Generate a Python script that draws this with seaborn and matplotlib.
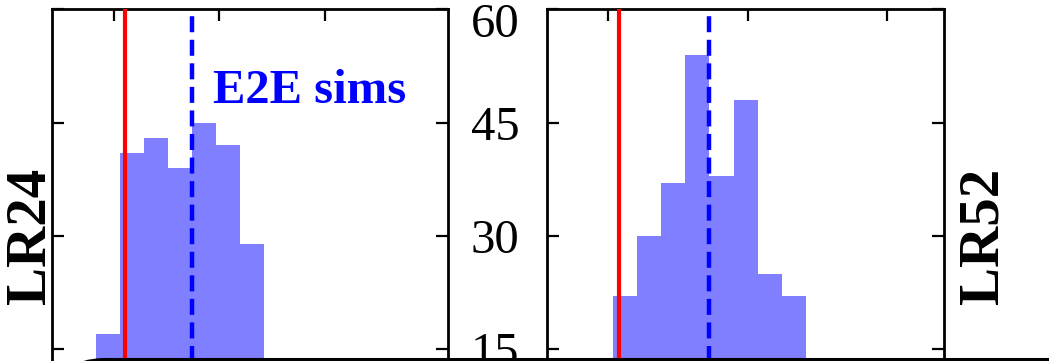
import numpy as np
import pandas as pd
import matplotlib
matplotlib.use("Agg")
import matplotlib.pyplot as plt
import seaborn as sns
from matplotlib.patches import FancyBboxPatch
from matplotlib.transforms import IdentityTransform, ScaledTranslation

# Histogram of E2E simulation results, one panel per likelihood-ratio statistic
lr24_edges = [0.829, 1.057, 1.284, 1.512, 1.739, 1.967, 2.194, 2.422]
lr24_counts = [17, 41, 43, 39, 45, 42, 29]
lr24_observed = 1.104
lr24_sims_mean = 1.739

lr52_edges = [1.036, 1.209, 1.381, 1.554, 1.727, 1.900, 2.072, 2.245, 2.418]
lr52_counts = [22, 30, 37, 54, 38, 48, 25, 22]
lr52_observed = 1.079
lr52_sims_mean = 1.724

y_ticks = [0, 15, 30, 45, 60]
y_tick_labels = ["0", "15", "30", "45", "60"]
x_ticks = [1, 2, 3]

sns.set_style("ticks")
plt.rcParams["font.family"] = ["Liberation Serif", "DejaVu Serif"]
plt.rcParams["text.color"] = "black"
plt.rcParams["axes.labelcolor"] = "black"
plt.rcParams["xtick.color"] = "black"
plt.rcParams["ytick.color"] = "black"

W, H = 1049, 361
fig = plt.figure(figsize=(W / 100, H / 100), dpi=100)

y0 = (H - 462.6) / H
hgt = 453.2 / H
ax1 = fig.add_axes([52 / W, y0, 396 / W, hgt])
ax2 = fig.add_axes([547 / W, y0, 397 / W, hgt])


def draw_panel(ax, edges, counts, observed, sims_mean, xlim):
    e = np.asarray(edges, dtype=float)
    df = pd.DataFrame({"value": 0.5 * (e[:-1] + e[1:]), "count": counts})
    sns.histplot(data=df, x="value", weights="count", bins=list(edges), ax=ax,
                 color="blue", alpha=0.5, linewidth=0)
    ax.axvline(observed, color="red", lw=3, zorder=3)
    ax.axvline(sims_mean, color="blue", lw=3.2, ls=(0, (3.6, 1.7)), zorder=3)
    ax.set_xlim(xlim)
    ax.set_ylim(0, 60)
    ax.set_xticks(x_ticks)
    ax.set_yticks(y_ticks)
    ax.set_yticklabels(y_tick_labels)
    ax.set_xlabel("")
    ax.tick_params(direction="in", length=8.5, width=1.6, top=True, bottom=True,
                   left=True, right=True, labelbottom=False, labelleft=False,
                   colors="black")
    for s in ax.spines.values():
        s.set_linewidth(2.0)
        s.set_color("black")


draw_panel(ax1, lr24_edges, lr24_counts, lr24_observed, lr24_sims_mean, (0.4123, 4.166))
draw_panel(ax2, lr52_edges, lr52_counts, lr52_observed, lr52_sims_mean, (0.5627, 3.4086))

# shared count scale shown between the two panels
ax2.tick_params(axis="y", labelleft=True, pad=20, labelsize=35, labelcolor="black")

# keep the topmost count label inside the frame
top_label = ax2.yaxis.get_major_ticks()[-1].label1
top_label.set_transform(top_label.get_transform()
                        + ScaledTranslation(0, -0.11, fig.dpi_scale_trans))

ax1.set_ylabel("LR24", fontsize=41, fontweight="bold", color="black")
ax1.yaxis.set_label_coords(0.0134, 0.5)
ax2.set_ylabel("LR52", fontsize=41, fontweight="bold", color="black")
ax2.yaxis.set_label_position("right")
ax2.yaxis.set_label_coords(1.035, 0.5)

ax1.text(1.938, 47.6, "E2E sims", color="blue", fontsize=35,
         fontweight="bold", va="baseline", ha="left")

# rounded frame of the key box underneath the panels
frame = FancyBboxPatch((55, -300), 3000, 301.5,
                       boxstyle="round,pad=0,rounding_size=50",
                       transform=IdentityTransform(), facecolor="white",
                       edgecolor="black", linewidth=2.2, clip_on=False, zorder=5)
fig.add_artist(frame)

fig.savefig("out.png", dpi=100)
